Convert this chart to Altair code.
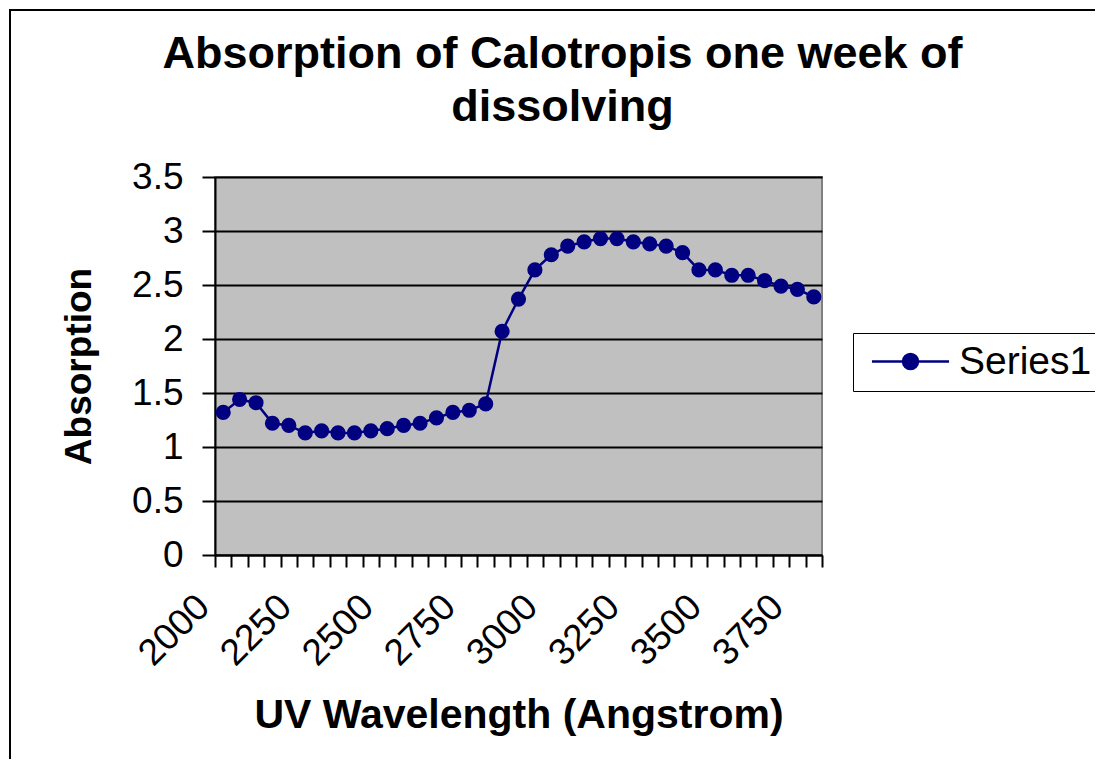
import altair as alt
import pandas as pd

wavelength = [2000, 2050, 2100, 2150, 2200, 2250, 2300, 2350, 2400, 2450,
              2500, 2550, 2600, 2650, 2700, 2750, 2800, 2850, 2900, 2950,
              3000, 3050, 3100, 3150, 3200, 3250, 3300, 3350, 3400, 3450,
              3500, 3550, 3600, 3650, 3700, 3750, 3800]
absorption = [1.32, 1.44, 1.41, 1.22, 1.20, 1.13, 1.15, 1.13, 1.13, 1.15,
              1.17, 1.20, 1.22, 1.27, 1.32, 1.34, 1.40, 2.07, 2.37, 2.64,
              2.78, 2.86, 2.90, 2.93, 2.93, 2.90, 2.88, 2.86, 2.80, 2.64,
              2.64, 2.59, 2.59, 2.54, 2.49, 2.46, 2.39]
series_name = "Series1"
y_ticks = [0, 0.5, 1, 1.5, 2, 2.5, 3, 3.5]

df = pd.DataFrame({"Wavelength": wavelength, "Absorption": absorption})
df["Series"] = series_name

FONT = "Liberation Sans"
NAVY = "#000080"
LEGEND_SYMBOL = "M-2.57,0L2.57,0M-0.5,0A0.5,0.5,0,1,1,0.5,0A0.5,0.5,0,1,1,-0.5,0Z"

x_enc = alt.X(
    "Wavelength:O",
    scale=alt.Scale(type="band", paddingInner=0, paddingOuter=0),
    axis=alt.Axis(
        title="UV Wavelength (Angstrom)",
        labelAngle=-45, labelAlign="right", labelBaseline="middle",
        labelExpr="datum.value % 250 == 0 ? datum.label : ''",
        labelOverlap=False, tickBand="extent",
        labelOffset=-20, labelPadding=34,
        tickSize=12, tickWidth=2, tickColor="black",
        domainColor="black", domainWidth=2,
        labelFont=FONT, labelFontSize=37, labelColor="black",
        titleFont=FONT, titleFontSize=41, titleFontWeight="bold", titleColor="black",
        titlePadding=24, grid=False,
    ),
)
y_enc = alt.Y(
    "Absorption:Q",
    scale=alt.Scale(domain=[0, 3.5], nice=False, zero=True),
    axis=alt.Axis(
        title="Absorption", values=y_ticks, format="~g",
        tickSize=13, tickWidth=2, tickColor="black",
        domainColor="black", domainWidth=2,
        labelFont=FONT, labelFontSize=37, labelColor="black", labelPadding=19,
        titleFont=FONT, titleFontSize=37, titleFontWeight="bold", titleColor="black",
        titlePadding=33,
        grid=True, gridColor="black", gridWidth=2,
    ),
)
color_enc = alt.Color(
    "Series:N",
    scale=alt.Scale(range=[NAVY]),
    legend=alt.Legend(
        title=None, orient="none", legendX=638, legendY=156,
        symbolType=LEGEND_SYMBOL, symbolSize=900, symbolOffset=29,
        symbolFillColor=NAVY, symbolStrokeColor=NAVY, symbolStrokeWidth=2.5,
        labelFont=FONT, labelFontSize=39, labelColor="black", labelOffset=29,
        strokeColor="black", fillColor="white", padding=9,
    ),
)

border = alt.Chart(pd.DataFrame({"k": [0]})).mark_rect(
    filled=False, stroke="black", strokeWidth=2
).encode(
    x=alt.value(-205), x2=alt.value(900), y=alt.value(-167), y2=alt.value(600)
)

line = alt.Chart(df).mark_line(strokeWidth=2.5).encode(x=x_enc, y=y_enc, color=color_enc)
points = alt.Chart(df).mark_point(filled=True, size=230, opacity=1).encode(
    x=x_enc, y=y_enc, color=color_enc
)

chart = alt.layer(border, line, points).properties(
    width=607, height=378,
    autosize=alt.AutoSizeParams(type="none"),
    padding={"left": 207, "top": 169, "right": 273, "bottom": 204},
    title=alt.Title(
        ["Absorption of Calotropis one week of", "dissolving"],
        font=FONT, fontSize=45, fontWeight="bold", color="black",
        anchor="middle", frame="group", dx=44, offset=-121, lineHeight=53,
    ),
).configure(
    background="white",
    view=alt.ViewConfig(fill="#C0C0C0", stroke="#808080", strokeWidth=2),
)

chart.save("out.html", embed_options={"renderer": "svg", "actions": False})
